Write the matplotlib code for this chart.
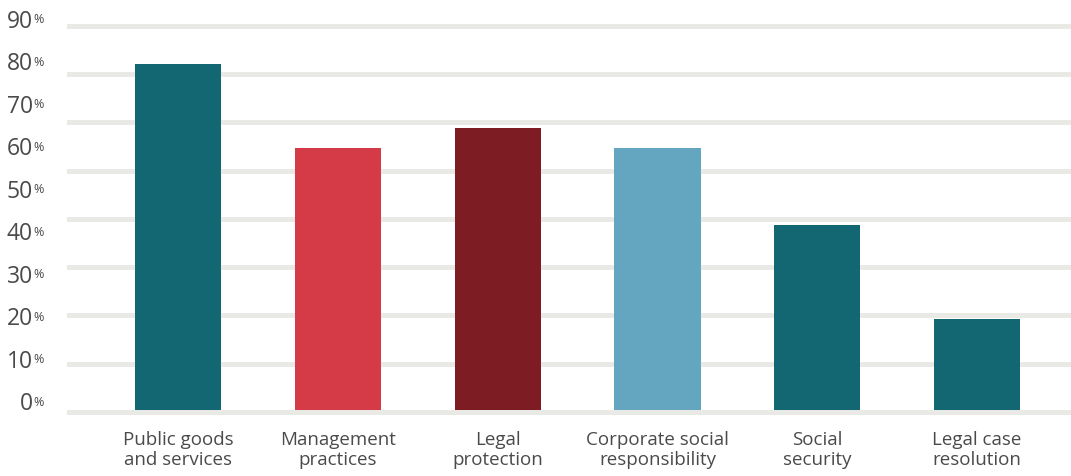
# bar chart of shares by area, grid and axis labels drawn to match the printed layout

import matplotlib.pyplot as plt
from matplotlib import transforms

categories = [
    "Public goods\nand services",
    "Management\npractices",
    "Legal\nprotection",
    "Corporate social\nresponsibility",
    "Social\nsecurity",
    "Legal case\nresolution",
]
values = [81.4, 61.6, 66.4, 61.6, 43.5, 21.4]
colors = ["#136773", "#d43b47", "#7d1c23", "#64a5c0", "#136773", "#136773"]
label_ticks = [0, 10, 20, 30, 40, 50, 60, 70, 80, 90]
grid_ticks = [0, 10, 20, 30, 40, 50, 60, 70, 80]

TEXT = "#4a4a4a"
GRID = "#e9eae5"
plt.rcParams["font.family"] = ["Open Sans", "DejaVu Sans"]

fig = plt.figure(figsize=(10.71, 4.76), dpi=100)
rect = [0.06256, 0.11765, 0.93744, 0.84034]

# grid lines live on their own axis (they don't line up with the labels in the original)
gax = fig.add_axes(rect, zorder=0)
gax.set_xlim(-0.6976, 5.589)
gax.set_ylim(-1.658, 81.24)
gax.set_yticks(grid_ticks)
gax.set_xticks([])
gax.grid(axis="y", color=GRID, linewidth=3.6)
gax.tick_params(left=False, labelleft=False)
for s in gax.spines.values():
    s.set_visible(False)

ax = fig.add_axes(rect, zorder=1)
ax.patch.set_visible(False)
x = list(range(len(categories)))
ax.bar(x, values, width=0.539, color=colors)
ax.set_xlim(-0.6976, 5.589)
ax.set_ylim(-2.353, 91.765)
for s in ax.spines.values():
    s.set_visible(False)

ax.set_xticks(x)
ax.set_xticklabels(categories, fontsize=13.5, color=TEXT, linespacing=1.12)
ax.tick_params(axis="x", length=0, pad=8)
ax.set_yticks([])

# y labels: big number + small raised percent sign
trans = transforms.blended_transform_factory(ax.transAxes, ax.transData)
for v in label_ticks:
    ax.text(-0.0339, v, str(v), transform=trans + transforms.ScaledTranslation(0, 4 / 72, fig.dpi_scale_trans),
            ha="right", va="center", fontsize=16.5, color=TEXT)
    ax.text(-0.0339, v, "%", transform=trans + transforms.ScaledTranslation(0, 14 / 100, fig.dpi_scale_trans),
            ha="left", va="top", fontsize=9, color=TEXT)

fig.savefig("out.png", dpi=100)
